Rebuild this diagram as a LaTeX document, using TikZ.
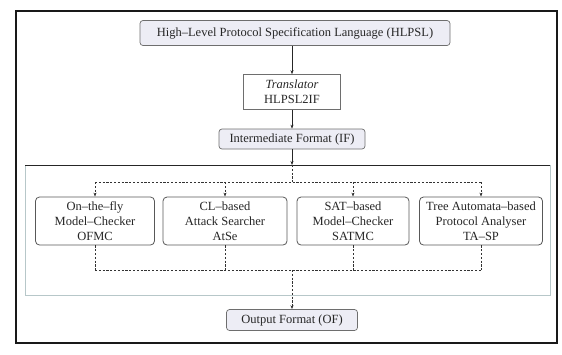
\documentclass[tikz,border=0pt]{standalone}
\usepackage{fontspec}
\setmainfont{Liberation Serif}
\usetikzlibrary{arrows.meta}

\definecolor{lavfill}{HTML}{EDEDF5}
\definecolor{boxline}{HTML}{6E6E6E}
\definecolor{innerline}{HTML}{B7C7C9}
\definecolor{inktext}{HTML}{262626}

\tikzset{
  every node/.style={font=\fontsize{12.5}{15}\selectfont, text=inktext, align=center, inner sep=0pt},
  formatbox/.style={draw=boxline, line width=0.7pt, fill=lavfill, rounded corners=3pt},
  transbox/.style={draw=boxline, line width=0.6pt, fill=white},
  toolbox/.style={draw=boxline!80!black, line width=0.8pt, fill=white, rounded corners=4pt},
  flow/.style={draw=black!85, line width=0.6pt, -{Stealth[length=4pt,width=3pt]}},
  dashflow/.style={draw=black!80, line width=0.7pt, dash pattern=on 2.2pt off 1.6pt},
  dasharrow/.style={dashflow, -{Stealth[length=4pt,width=3pt]}},
}

\begin{document}
\begin{tikzpicture}[x=1pt, y=-1pt]
  \useasboundingbox (0,0) rectangle (562,354);

  % outer frame
  \draw[line width=1.3pt, draw=black!90] (16,11) rectangle (557,343);

  % inner frame around the back-ends
  \draw[line width=0.6pt, draw=innerline] (25,165) rectangle (550,295);
  \draw[line width=1pt, draw=black!85] (25,165) -- (550,165);

  % front-end chain
  \node[formatbox, minimum width=310pt, minimum height=25pt] (hlpsl) at (295,33)
    {High–Level Protocol Specification Language (HLPSL)};
  \node[transbox, minimum width=97pt, minimum height=35pt] (trans) at (292,92)
    {\textit{Translator}\\HLPSL2IF};
  \node[formatbox, minimum width=146pt, minimum height=20pt] (if) at (292,139)
    {Intermediate Format (IF)};

  % back-ends
  \node[toolbox, minimum width=119pt, minimum height=48pt] (ofmc) at (95,221)
    {On–the–fly\\Model–Checker\\OFMC};
  \node[toolbox, minimum width=124pt, minimum height=48pt] (cl) at (225,221)
    {CL–based\\Attack Searcher\\AtSe};
  \node[toolbox, minimum width=112pt, minimum height=48pt] (sat) at (353,221)
    {SAT–based\\Model–Checker\\SATMC};
  \node[toolbox, minimum width=123pt, minimum height=48pt] (ta) at (481,221)
    {Tree Automata–based\\Protocol Analyser\\TA–SP};

  % output
  \node[formatbox, minimum width=131pt, minimum height=21pt] (of) at (292,320)
    {Output Format (OF)};

  % bus points
  \coordinate (ftop) at (292,165);
  \coordinate (busT) at (292,182);
  \coordinate (busB) at (292,270);

  % solid arrows down the spine
  \draw[flow] (trans.north |- hlpsl.south) -- (trans.north);
  \draw[flow] (trans) -- (if);
  \draw[flow] (if.south) -- (ftop);

  % fan-out to the back-ends
  \draw[dashflow] (ftop) -- (busT);
  \draw[dashflow] (ofmc.north |- busT) -- (ta.north |- busT);
  \foreach \t in {ofmc,cl,sat,ta}
    \draw[dasharrow] (\t.north |- busT) -- (\t.north);

  % fan-in to the output
  \foreach \t in {ofmc,cl,sat,ta}
    \draw[dashflow] (\t.south) -- (\t.south |- busB);
  \draw[dashflow] (ofmc.south |- busB) -- (ta.south |- busB);
  \draw[dasharrow] (busB) -- (of.north);
\end{tikzpicture}
\end{document}
